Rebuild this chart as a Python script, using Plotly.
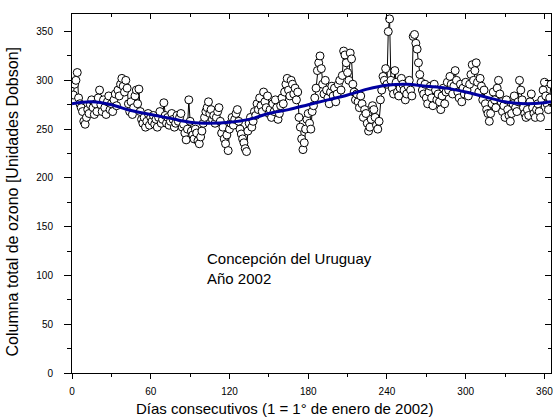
import plotly.graph_objects as go

# Daily total ozone column (Dobson Units), days 1..365
ozone = [
    285, 296, 300, 308, 282, 276, 272, 268, 258, 255,
    262, 270, 266, 275, 280, 272, 265, 276, 268, 282,
    290, 275, 268, 280, 272, 265, 278, 284, 270, 276,
    268, 280, 286, 274, 290, 284, 296, 302, 294, 288,
    300, 292, 276, 268, 278, 265, 272, 284, 290, 276,
    291, 268, 260, 256, 262, 252, 258, 266, 254, 262,
    258, 264, 255, 260, 252, 262, 268, 256, 260, 277,
    264, 256, 262, 254, 258, 266, 260, 252, 256, 264,
    258, 262, 266, 252, 255, 246, 239, 250, 280, 258,
    248, 244, 240, 250, 246, 238, 235, 242, 248, 256,
    262, 268, 272, 278, 266, 270, 260, 264, 256, 262,
    268, 272, 258, 246, 252, 240, 235, 244, 228, 250,
    256, 262, 254, 260, 266, 270, 258, 250, 245, 240,
    236, 230, 227, 248, 256, 262, 252, 258, 268, 264,
    276, 270, 282, 274, 268, 288, 278, 272, 284, 266,
    270, 262, 276, 268, 280, 272, 260, 266, 274, 282,
    276, 288, 296, 302, 290, 284, 300, 296, 286, 292,
    280, 288, 262, 252, 240, 229, 236, 250, 260, 266,
    256, 250, 268, 274, 282, 292, 310, 318, 325, 312,
    296, 286, 300, 290, 282, 276, 288, 294, 284, 292,
    278, 286, 296, 300, 290, 305, 330, 326, 318, 308,
    300, 328, 322, 296, 288, 280, 286, 278, 272, 284,
    276, 262, 270, 266, 256, 248, 252, 260, 274, 270,
    262, 254, 250, 258, 280, 290, 304, 300, 312, 296,
    350, 363, 300, 292, 286, 310, 298, 288, 284, 292,
    302, 296, 290, 280, 286, 294, 300, 290, 284, 345,
    347, 338, 332, 318, 306, 298, 290, 286, 296, 282,
    276, 288, 294, 282, 274, 296, 290, 280, 286, 278,
    270, 284, 292, 276, 288, 298, 290, 304, 296, 286,
    294, 310, 300, 288, 282, 296, 278, 292, 286, 298,
    290, 284, 296, 306, 316, 300, 310, 318, 298, 288,
    302, 294, 280, 290, 276, 270, 266, 258, 266, 276,
    288, 280, 272, 292, 300, 286, 278, 268, 274, 262,
    280, 270, 264, 258, 266, 276, 284, 272, 268, 278,
    300, 290, 280, 272, 266, 262, 270, 264, 278, 286,
    272, 266, 262, 270, 276, 268, 262, 280, 290, 298,
    284, 276, 270, 282, 296,
]
days = list(range(1, len(ozone) + 1))

fit_days = [0, 15, 30, 45, 60, 75, 90, 105, 120, 135, 150, 165, 180,
            195, 210, 225, 240, 255, 270, 285, 300, 315, 330, 345, 360, 365]
fit_vals = [276, 278, 275, 269, 265, 261, 257, 256, 257, 260, 266, 270, 275,
            280, 285, 291, 295, 296, 294, 292, 288, 283, 278, 276, 277, 278]

x_ticks = [0, 60, 120, 180, 240, 300, 360]
y_ticks = [0, 50, 100, 150, 200, 250, 300, 350]

FONT = "Liberation Sans, Arial, sans-serif"

fig = go.Figure()
fig.add_trace(go.Scatter(
    x=days, y=ozone, mode="lines+markers",
    line=dict(color="black", width=1),
    marker=dict(symbol="circle", size=8, color="white",
                line=dict(color="black", width=1)),
    showlegend=False, hoverinfo="skip"))
fig.add_trace(go.Scatter(
    x=fit_days, y=fit_vals, mode="lines",
    line=dict(color="#0000a0", width=3, shape="spline", smoothing=1.0),
    showlegend=False, hoverinfo="skip"))
# dummy trace for mirrored inside-tick axes
fig.add_trace(go.Scatter(x=[None], y=[None], xaxis="x2", yaxis="y2",
                         showlegend=False, hoverinfo="skip"))

axis_common = dict(showgrid=False, zeroline=False, showline=True,
                   linecolor="black", linewidth=1, automargin=False)

fig.update_layout(
    width=553, height=419,
    margin=dict(l=72, r=2, t=14, b=46),
    paper_bgcolor="white", plot_bgcolor="white",
    font=dict(family=FONT, color="black", size=10),
    xaxis=dict(range=[0, 365], tickvals=x_ticks, ticks="outside", ticklen=5,
               tickcolor="black", tickfont=dict(size=10), ticklabelstandoff=4,
               ticklabeloverflow="allow",
               minor=dict(dtick=30, tick0=0, ticks="outside", ticklen=3,
                          tickcolor="black"),
               **axis_common),
    yaxis=dict(range=[0, 368], tickvals=y_ticks, ticks="outside", ticklen=7,
               tickcolor="black", tickfont=dict(size=10), ticklabelstandoff=9,
               ticklabeloverflow="allow",
               minor=dict(dtick=25, tick0=0, ticks="outside", ticklen=4,
                          tickcolor="black"),
               **axis_common),
    xaxis2=dict(range=[0, 365], overlaying="x", side="top", tickvals=x_ticks,
                ticks="inside", ticklen=5, tickcolor="black",
                showticklabels=False,
                minor=dict(dtick=30, tick0=0, ticks="inside", ticklen=3,
                           tickcolor="black"),
                **axis_common),
    yaxis2=dict(range=[0, 368], overlaying="y", side="right", tickvals=y_ticks,
                ticks="inside", ticklen=6, tickcolor="black",
                showticklabels=False,
                minor=dict(dtick=25, tick0=0, ticks="inside", ticklen=3,
                           tickcolor="black"),
                **axis_common),
    annotations=[
        dict(text="Columna total de ozono [Unidades Dobson]", textangle=-90,
             xref="paper", yref="paper", x=-0.125, y=0.478,
             xanchor="center", yanchor="middle", showarrow=False,
             font=dict(size=16, family=FONT)),
        dict(text="Días consecutivos (1 = 1° de enero de 2002)",
             xref="paper", yref="paper", x=0.4426, y=-0.1,
             xanchor="center", yanchor="middle", showarrow=False,
             font=dict(size=15, family=FONT)),
        dict(text="Concepción del Uruguay", xref="x", yref="y",
             x=101, y=117, xanchor="left", yanchor="middle",
             showarrow=False, font=dict(size=15, family=FONT)),
        dict(text="Año 2002", xref="x", yref="y",
             x=101, y=96.5, xanchor="left", yanchor="middle",
             showarrow=False, font=dict(size=15, family=FONT)),
    ],
)

fig.write_html(
    "out.html",
    config={"displayModeBar": False},
    post_script="document.body.style.margin='0';"
                "document.body.style.overflow='hidden';",
)
